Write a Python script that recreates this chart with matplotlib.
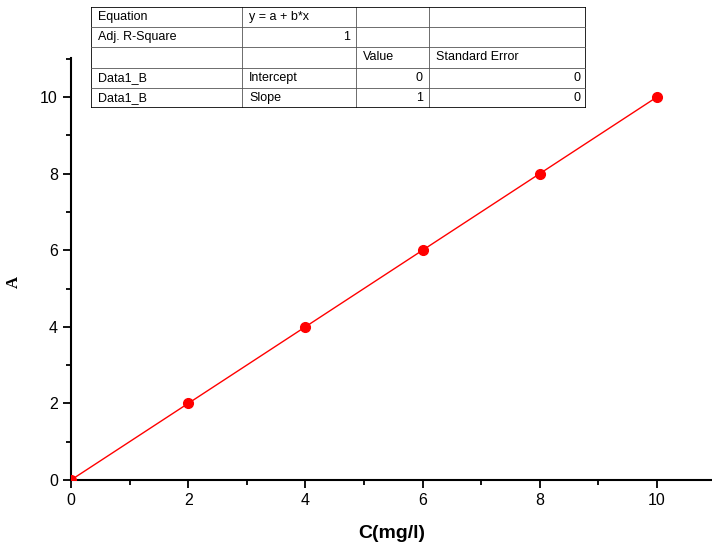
import matplotlib
matplotlib.use("Agg")
import matplotlib.pyplot as plt
import numpy as np

conc = [0, 2, 4, 6, 8, 10]
absorb = [0, 2, 4, 6, 8, 10]
intercept = 0
slope = 1
table_rows = [
    ["Equation", "y = a + b*x", "", ""],
    ["Adj. R-Square", "1", "", ""],
    ["", "", "Value", "Standard Error"],
    ["Data1_B", "Intercept", "0", "0"],
    ["Data1_B", "Slope", "1", "0"],
]
xticks = [0, 2, 4, 6, 8, 10]
yticks = [0, 2, 4, 6, 8, 10]

plt.rcParams['font.family'] = ['Liberation Sans', 'DejaVu Sans']
W, H = 712, 545
fig = plt.figure(figsize=(W/100, H/100), dpi=100)
ax = fig.add_axes([71/W, 65/H, (W-71)/W, (480-58)/H])
ax.set_xlim(0, 10.94)
ax.set_ylim(0, 11.02)
xf = np.array([0, 10])
ax.plot(xf, intercept + slope*xf, color='red', lw=1, zorder=2, clip_on=False)
ax.plot(conc, absorb, 'o', color='red', ms=7, zorder=3, clip_on=True)
for s in ['top', 'right']:
    ax.spines[s].set_visible(False)
for s in ['left', 'bottom']:
    ax.spines[s].set_linewidth(1.5)
ax.set_xticks(xticks)
ax.set_yticks(yticks)
ax.set_xticks([1, 3, 5, 7, 9], minor=True)
ax.set_yticks([1, 3, 5, 7, 9, 11], minor=True)
ax.tick_params(which='major', direction='out', length=6, width=1.3, labelsize=11.5)
ax.tick_params(which='minor', direction='out', length=3.5, width=1.3)
ax.set_xlabel("C(mg/l)", fontsize=14, fontweight='bold', labelpad=12)
ax.set_ylabel("A", fontsize=12, fontweight='bold', family='Liberation Serif')
ax.yaxis.set_label_coords(-0.077, 0.47)

# table
tx0, tx1, ty0, ty1 = 91, 586, 7, 108
tab = fig.add_axes([tx0/W, 1-ty1/H, (tx1-tx0)/W, (ty1-ty0)/H])
tab.set_xlim(tx0, tx1)
tab.set_ylim(ty1, ty0)
tab.axis('off')
cols = [91, 242, 356, 429, 586]
rows = np.linspace(ty0, ty1, 6)
for c in cols:
    lw = 1.2 if c in (91, 586) else 0.6
    tab.plot([c, c], [ty0, ty1], color='#555555' if lw < 1 else 'black', lw=lw)
for i, r in enumerate(rows):
    lw = 1.2 if i in (0, 5) else 0.6
    tab.plot([tx0, tx1], [r, r], color='#555555' if lw < 1 else 'black', lw=lw)
for i, row in enumerate(table_rows):
    yc = (rows[i] + rows[i+1]) / 2
    for j, txt in enumerate(row):
        if not txt:
            continue
        numeric = txt.replace('.', '').isdigit()
        if numeric:
            tab.text(cols[j+1] - 6, yc, txt, ha='right', va='center', fontsize=9)
        else:
            tab.text(cols[j] + 7, yc, txt, ha='left', va='center', fontsize=9)

fig.savefig("out.png", dpi=100)
